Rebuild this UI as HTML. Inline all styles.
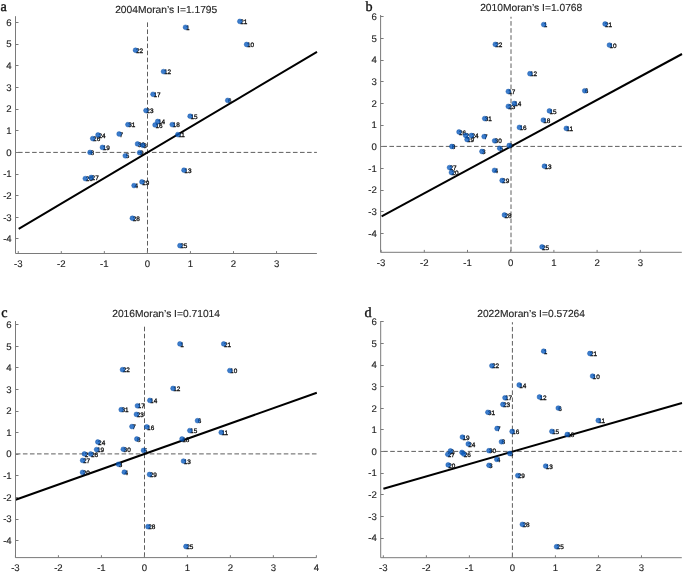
<!DOCTYPE html>
<html><head><meta charset="utf-8"><title>Moran scatter</title><style>
html,body{margin:0;padding:0;background:#fff;}
body{width:685px;height:574px;overflow:hidden;}
svg{display:block;filter:blur(0.35px);}
text{text-rendering:geometricPrecision;}
.tk{font-family:"Liberation Sans", sans-serif;font-size:9.6px;fill:#262626;stroke:#262626;stroke-width:0.15px;}
.lb{font-family:"Liberation Sans", sans-serif;font-size:6.4px;fill:#111;stroke:#111;stroke-width:0.3px;}
.tt{font-family:"Liberation Sans", sans-serif;font-size:10.25px;fill:#262626;stroke:#262626;stroke-width:0.15px;}
.pl{font-family:"Liberation Serif", serif;font-size:14.2px;fill:#111;stroke:#111;stroke-width:0.35px;}
.d{fill:#0558bf;stroke:#03479f;stroke-width:0.5;fill-opacity:0.78;stroke-opacity:0.78;}
</style></head>
<body><svg width="685" height="574" viewBox="0 0 685 574"><rect width="685" height="574" fill="#fff"/><g><line x1="15.5" y1="152.4" x2="316.9" y2="152.4" stroke="#5e5e5e" stroke-width="1" stroke-dasharray="4.6 2.45" stroke-dashoffset="4.55"/><line x1="147.5" y1="22.4" x2="147.5" y2="253.5" stroke="#5e5e5e" stroke-width="1" stroke-dasharray="4.6 2.45" stroke-dashoffset="0"/><line x1="18.7" y1="228.8" x2="317" y2="51.8" stroke="#000" stroke-width="2"/><path d="M15.5 16.2V253.5H316.9" fill="none" stroke="#7a7a7a" stroke-width="1"/><line x1="15.5" y1="238.5" x2="18.5" y2="238.5" stroke="#7a7a7a" stroke-width="1"/><text x="11.7" y="242.15" text-anchor="end" class="tk">-4</text><line x1="15.5" y1="217.5" x2="18.5" y2="217.5" stroke="#7a7a7a" stroke-width="1"/><text x="11.7" y="220.52" text-anchor="end" class="tk">-3</text><line x1="15.5" y1="195.5" x2="18.5" y2="195.5" stroke="#7a7a7a" stroke-width="1"/><text x="11.7" y="198.89" text-anchor="end" class="tk">-2</text><line x1="15.5" y1="174.5" x2="18.5" y2="174.5" stroke="#7a7a7a" stroke-width="1"/><text x="11.7" y="177.26" text-anchor="end" class="tk">-1</text><line x1="15.5" y1="152.5" x2="18.5" y2="152.5" stroke="#7a7a7a" stroke-width="1"/><text x="11.7" y="155.63" text-anchor="end" class="tk">0</text><line x1="15.5" y1="130.5" x2="18.5" y2="130.5" stroke="#7a7a7a" stroke-width="1"/><text x="11.7" y="134" text-anchor="end" class="tk">1</text><line x1="15.5" y1="109.5" x2="18.5" y2="109.5" stroke="#7a7a7a" stroke-width="1"/><text x="11.7" y="112.37" text-anchor="end" class="tk">2</text><line x1="15.5" y1="87.5" x2="18.5" y2="87.5" stroke="#7a7a7a" stroke-width="1"/><text x="11.7" y="90.74" text-anchor="end" class="tk">3</text><line x1="15.5" y1="65.5" x2="18.5" y2="65.5" stroke="#7a7a7a" stroke-width="1"/><text x="11.7" y="69.11" text-anchor="end" class="tk">4</text><line x1="15.5" y1="44.5" x2="18.5" y2="44.5" stroke="#7a7a7a" stroke-width="1"/><text x="11.7" y="47.48" text-anchor="end" class="tk">5</text><line x1="15.5" y1="22.5" x2="18.5" y2="22.5" stroke="#7a7a7a" stroke-width="1"/><text x="11.7" y="25.85" text-anchor="end" class="tk">6</text><line x1="18.25" y1="253.5" x2="18.25" y2="251.1" stroke="#7a7a7a" stroke-width="1"/><text x="18.25" y="267.2" text-anchor="middle" class="tk">-3</text><line x1="61.3" y1="253.5" x2="61.3" y2="251.1" stroke="#7a7a7a" stroke-width="1"/><text x="61.3" y="267.2" text-anchor="middle" class="tk">-2</text><line x1="104.35" y1="253.5" x2="104.35" y2="251.1" stroke="#7a7a7a" stroke-width="1"/><text x="104.35" y="267.2" text-anchor="middle" class="tk">-1</text><line x1="147.4" y1="253.5" x2="147.4" y2="251.1" stroke="#7a7a7a" stroke-width="1"/><text x="147.4" y="267.2" text-anchor="middle" class="tk">0</text><line x1="190.45" y1="253.5" x2="190.45" y2="251.1" stroke="#7a7a7a" stroke-width="1"/><text x="190.45" y="267.2" text-anchor="middle" class="tk">1</text><line x1="233.5" y1="253.5" x2="233.5" y2="251.1" stroke="#7a7a7a" stroke-width="1"/><text x="233.5" y="267.2" text-anchor="middle" class="tk">2</text><line x1="276.55" y1="253.5" x2="276.55" y2="251.1" stroke="#7a7a7a" stroke-width="1"/><text x="276.55" y="267.2" text-anchor="middle" class="tk">3</text><text x="240.2" y="24" class="lb">21</text><text x="247" y="47.1" class="lb">10</text><text x="185.9" y="29.9" class="lb">1</text><text x="135.9" y="52.85" class="lb">22</text><text x="163.9" y="74.2" class="lb">12</text><text x="153.4" y="96.9" class="lb">17</text><text x="146.33" y="113.21" class="lb">23</text><text x="128.28" y="127.23" class="lb">31</text><text x="158.07" y="124.07" class="lb">14</text><text x="155.44" y="127.58" class="lb">16</text><text x="172.61" y="127.23" class="lb">18</text><text x="190.48" y="118.82" class="lb">15</text><text x="178.21" y="137.21" class="lb">11</text><text x="228.1" y="103" class="lb">6</text><text x="119.5" y="136.6" class="lb">7</text><text x="98.4" y="137.6" class="lb">24</text><text x="93.1" y="141.2" class="lb">26</text><text x="102.8" y="150" class="lb">19</text><text x="90.4" y="155" class="lb">8</text><text x="125.66" y="158.41" class="lb">5</text><text x="137.92" y="146.5" class="lb">30</text><text x="143.18" y="147.9" class="lb">3</text><text x="140.02" y="155.26" class="lb">9</text><text x="85.7" y="181.2" class="lb">20</text><text x="91.6" y="180.1" class="lb">27</text><text x="142.3" y="184.51" class="lb">29</text><text x="134.42" y="188.19" class="lb">4</text><text x="184.35" y="172.78" class="lb">13</text><text x="132.75" y="220.85" class="lb">28</text><text x="180.3" y="248.25" class="lb">25</text><circle cx="239.8" cy="21.38" r="2.4" class="d"/><circle cx="246.6" cy="44.48" r="2.4" class="d"/><circle cx="185.5" cy="27.28" r="2.4" class="d"/><circle cx="135.5" cy="50.23" r="2.4" class="d"/><circle cx="163.5" cy="71.58" r="2.4" class="d"/><circle cx="153" cy="94.28" r="2.4" class="d"/><circle cx="145.93" cy="110.59" r="2.4" class="d"/><circle cx="127.88" cy="124.61" r="2.4" class="d"/><circle cx="157.67" cy="121.45" r="2.4" class="d"/><circle cx="155.04" cy="124.96" r="2.4" class="d"/><circle cx="172.21" cy="124.61" r="2.4" class="d"/><circle cx="190.08" cy="116.2" r="2.4" class="d"/><circle cx="177.81" cy="134.59" r="2.4" class="d"/><circle cx="227.7" cy="100.38" r="2.4" class="d"/><circle cx="119.1" cy="133.98" r="2.4" class="d"/><circle cx="98" cy="134.98" r="2.4" class="d"/><circle cx="92.7" cy="138.58" r="2.4" class="d"/><circle cx="102.4" cy="147.38" r="2.4" class="d"/><circle cx="90" cy="152.38" r="2.4" class="d"/><circle cx="125.26" cy="155.79" r="2.4" class="d"/><circle cx="137.52" cy="143.88" r="2.4" class="d"/><circle cx="142.78" cy="145.28" r="2.4" class="d"/><circle cx="139.62" cy="152.64" r="2.4" class="d"/><circle cx="85.3" cy="178.58" r="2.4" class="d"/><circle cx="91.2" cy="177.48" r="2.4" class="d"/><circle cx="141.9" cy="181.89" r="2.4" class="d"/><circle cx="134.02" cy="185.57" r="2.4" class="d"/><circle cx="183.95" cy="170.16" r="2.4" class="d"/><circle cx="132.35" cy="218.23" r="2.4" class="d"/><circle cx="179.9" cy="245.63" r="2.4" class="d"/><text x="166.2" y="12.7" text-anchor="middle" class="tt">2004Moran&#8217;s I=1.1795</text><text x="0.5" y="11" class="pl">a</text></g><g><line x1="380.6" y1="146.4" x2="681.8" y2="146.4" stroke="#5e5e5e" stroke-width="1" stroke-dasharray="4.6 2.45" stroke-dashoffset="5.3"/><line x1="511" y1="16.8" x2="511" y2="252.3" stroke="#5e5e5e" stroke-width="1" stroke-dasharray="4.6 2.45" stroke-dashoffset="2.75"/><line x1="381.6" y1="216.4" x2="682" y2="54" stroke="#000" stroke-width="2"/><path d="M380.6 15V252.3H681.8" fill="none" stroke="#7a7a7a" stroke-width="1"/><line x1="380.6" y1="233.5" x2="383.6" y2="233.5" stroke="#7a7a7a" stroke-width="1"/><text x="376.8" y="236.8" text-anchor="end" class="tk">-4</text><line x1="380.6" y1="211.5" x2="383.6" y2="211.5" stroke="#7a7a7a" stroke-width="1"/><text x="376.8" y="215.11" text-anchor="end" class="tk">-3</text><line x1="380.6" y1="190.5" x2="383.6" y2="190.5" stroke="#7a7a7a" stroke-width="1"/><text x="376.8" y="193.42" text-anchor="end" class="tk">-2</text><line x1="380.6" y1="168.5" x2="383.6" y2="168.5" stroke="#7a7a7a" stroke-width="1"/><text x="376.8" y="171.73" text-anchor="end" class="tk">-1</text><line x1="380.6" y1="146.5" x2="383.6" y2="146.5" stroke="#7a7a7a" stroke-width="1"/><text x="376.8" y="150.04" text-anchor="end" class="tk">0</text><line x1="380.6" y1="125.5" x2="383.6" y2="125.5" stroke="#7a7a7a" stroke-width="1"/><text x="376.8" y="128.35" text-anchor="end" class="tk">1</text><line x1="380.6" y1="103.5" x2="383.6" y2="103.5" stroke="#7a7a7a" stroke-width="1"/><text x="376.8" y="106.66" text-anchor="end" class="tk">2</text><line x1="380.6" y1="81.5" x2="383.6" y2="81.5" stroke="#7a7a7a" stroke-width="1"/><text x="376.8" y="84.97" text-anchor="end" class="tk">3</text><line x1="380.6" y1="60.5" x2="383.6" y2="60.5" stroke="#7a7a7a" stroke-width="1"/><text x="376.8" y="63.28" text-anchor="end" class="tk">4</text><line x1="380.6" y1="38.5" x2="383.6" y2="38.5" stroke="#7a7a7a" stroke-width="1"/><text x="376.8" y="41.59" text-anchor="end" class="tk">5</text><line x1="380.6" y1="16.5" x2="383.6" y2="16.5" stroke="#7a7a7a" stroke-width="1"/><text x="376.8" y="19.9" text-anchor="end" class="tk">6</text><line x1="381.1" y1="252.3" x2="381.1" y2="249.9" stroke="#7a7a7a" stroke-width="1"/><text x="381.1" y="266" text-anchor="middle" class="tk">-3</text><line x1="424.3" y1="252.3" x2="424.3" y2="249.9" stroke="#7a7a7a" stroke-width="1"/><text x="424.3" y="266" text-anchor="middle" class="tk">-2</text><line x1="467.5" y1="252.3" x2="467.5" y2="249.9" stroke="#7a7a7a" stroke-width="1"/><text x="467.5" y="266" text-anchor="middle" class="tk">-1</text><line x1="510.7" y1="252.3" x2="510.7" y2="249.9" stroke="#7a7a7a" stroke-width="1"/><text x="510.7" y="266" text-anchor="middle" class="tk">0</text><line x1="553.9" y1="252.3" x2="553.9" y2="249.9" stroke="#7a7a7a" stroke-width="1"/><text x="553.9" y="266" text-anchor="middle" class="tk">1</text><line x1="597.1" y1="252.3" x2="597.1" y2="249.9" stroke="#7a7a7a" stroke-width="1"/><text x="597.1" y="266" text-anchor="middle" class="tk">2</text><line x1="640.3" y1="252.3" x2="640.3" y2="249.9" stroke="#7a7a7a" stroke-width="1"/><text x="640.3" y="266" text-anchor="middle" class="tk">3</text><text x="605.05" y="26.6" class="lb">21</text><text x="609.4" y="47.7" class="lb">10</text><text x="543.7" y="27.2" class="lb">1</text><text x="495.3" y="47" class="lb">22</text><text x="529.9" y="76.3" class="lb">12</text><text x="508.3" y="94.1" class="lb">17</text><text x="514.3" y="106.1" class="lb">14</text><text x="508.3" y="109" class="lb">23</text><text x="549.4" y="113.5" class="lb">15</text><text x="543.3" y="122.7" class="lb">18</text><text x="484.7" y="121.2" class="lb">31</text><text x="519.4" y="130" class="lb">16</text><text x="459" y="134.6" class="lb">26</text><text x="465.6" y="138" class="lb">2</text><text x="471.4" y="138.1" class="lb">24</text><text x="467" y="142.1" class="lb">19</text><text x="484.1" y="139.2" class="lb">7</text><text x="494.6" y="143.4" class="lb">30</text><text x="451.8" y="149.1" class="lb">8</text><text x="509.2" y="148.1" class="lb">9</text><text x="499.7" y="150.9" class="lb">5</text><text x="481.9" y="154.1" class="lb">3</text><text x="449.5" y="170.2" class="lb">27</text><text x="451.4" y="175.1" class="lb">20</text><text x="494.5" y="173" class="lb">4</text><text x="502.1" y="183.1" class="lb">29</text><text x="544.4" y="168.8" class="lb">13</text><text x="504.4" y="217.6" class="lb">28</text><text x="542" y="249.5" class="lb">25</text><text x="584.7" y="93.4" class="lb">6</text><text x="566.3" y="131" class="lb">11</text><circle cx="605.05" cy="23.98" r="2.4" class="d"/><circle cx="609.4" cy="45.08" r="2.4" class="d"/><circle cx="543.7" cy="24.58" r="2.4" class="d"/><circle cx="495.3" cy="44.38" r="2.4" class="d"/><circle cx="529.9" cy="73.68" r="2.4" class="d"/><circle cx="508.3" cy="91.48" r="2.4" class="d"/><circle cx="514.3" cy="103.48" r="2.4" class="d"/><circle cx="508.3" cy="106.38" r="2.4" class="d"/><circle cx="549.4" cy="110.88" r="2.4" class="d"/><circle cx="543.3" cy="120.08" r="2.4" class="d"/><circle cx="484.7" cy="118.58" r="2.4" class="d"/><circle cx="519.4" cy="127.38" r="2.4" class="d"/><circle cx="459" cy="131.98" r="2.4" class="d"/><circle cx="465.6" cy="135.38" r="2.4" class="d"/><circle cx="471.4" cy="135.48" r="2.4" class="d"/><circle cx="467" cy="139.48" r="2.4" class="d"/><circle cx="484.1" cy="136.58" r="2.4" class="d"/><circle cx="494.6" cy="140.78" r="2.4" class="d"/><circle cx="451.8" cy="146.48" r="2.4" class="d"/><circle cx="509.2" cy="145.48" r="2.4" class="d"/><circle cx="499.7" cy="148.28" r="2.4" class="d"/><circle cx="481.9" cy="151.48" r="2.4" class="d"/><circle cx="449.5" cy="167.58" r="2.4" class="d"/><circle cx="451.4" cy="172.48" r="2.4" class="d"/><circle cx="494.5" cy="170.38" r="2.4" class="d"/><circle cx="502.1" cy="180.48" r="2.4" class="d"/><circle cx="544.4" cy="166.18" r="2.4" class="d"/><circle cx="504.4" cy="214.98" r="2.4" class="d"/><circle cx="542" cy="246.88" r="2.4" class="d"/><circle cx="584.7" cy="90.78" r="2.4" class="d"/><circle cx="566.3" cy="128.38" r="2.4" class="d"/><text x="531.2" y="11.4" text-anchor="middle" class="tt">2010Moran&#8217;s I=1.0768</text><text x="365.6" y="10.8" class="pl">b</text></g><g><line x1="15.5" y1="453.9" x2="316.5" y2="453.9" stroke="#5e5e5e" stroke-width="1" stroke-dasharray="4.6 2.45" stroke-dashoffset="6.7"/><line x1="144.5" y1="326.6" x2="144.5" y2="557.6" stroke="#5e5e5e" stroke-width="1" stroke-dasharray="4.6 2.45" stroke-dashoffset="6.95"/><line x1="15.6" y1="499.8" x2="316.8" y2="392.7" stroke="#000" stroke-width="2"/><path d="M15.5 321V557.6H316.5" fill="none" stroke="#7a7a7a" stroke-width="1"/><line x1="15.5" y1="540.5" x2="18.5" y2="540.5" stroke="#7a7a7a" stroke-width="1"/><text x="11.7" y="543.8" text-anchor="end" class="tk">-4</text><line x1="15.5" y1="519.5" x2="18.5" y2="519.5" stroke="#7a7a7a" stroke-width="1"/><text x="11.7" y="522.22" text-anchor="end" class="tk">-3</text><line x1="15.5" y1="497.5" x2="18.5" y2="497.5" stroke="#7a7a7a" stroke-width="1"/><text x="11.7" y="500.64" text-anchor="end" class="tk">-2</text><line x1="15.5" y1="475.5" x2="18.5" y2="475.5" stroke="#7a7a7a" stroke-width="1"/><text x="11.7" y="479.06" text-anchor="end" class="tk">-1</text><line x1="15.5" y1="454.5" x2="18.5" y2="454.5" stroke="#7a7a7a" stroke-width="1"/><text x="11.7" y="457.48" text-anchor="end" class="tk">0</text><line x1="15.5" y1="432.5" x2="18.5" y2="432.5" stroke="#7a7a7a" stroke-width="1"/><text x="11.7" y="435.9" text-anchor="end" class="tk">1</text><line x1="15.5" y1="411.5" x2="18.5" y2="411.5" stroke="#7a7a7a" stroke-width="1"/><text x="11.7" y="414.32" text-anchor="end" class="tk">2</text><line x1="15.5" y1="389.5" x2="18.5" y2="389.5" stroke="#7a7a7a" stroke-width="1"/><text x="11.7" y="392.74" text-anchor="end" class="tk">3</text><line x1="15.5" y1="367.5" x2="18.5" y2="367.5" stroke="#7a7a7a" stroke-width="1"/><text x="11.7" y="371.16" text-anchor="end" class="tk">4</text><line x1="15.5" y1="346.5" x2="18.5" y2="346.5" stroke="#7a7a7a" stroke-width="1"/><text x="11.7" y="349.58" text-anchor="end" class="tk">5</text><line x1="15.5" y1="324.5" x2="18.5" y2="324.5" stroke="#7a7a7a" stroke-width="1"/><text x="11.7" y="328" text-anchor="end" class="tk">6</text><line x1="15.43" y1="557.6" x2="15.43" y2="555.2" stroke="#7a7a7a" stroke-width="1"/><text x="15.43" y="571.3" text-anchor="middle" class="tk">-3</text><line x1="58.42" y1="557.6" x2="58.42" y2="555.2" stroke="#7a7a7a" stroke-width="1"/><text x="58.42" y="571.3" text-anchor="middle" class="tk">-2</text><line x1="101.41" y1="557.6" x2="101.41" y2="555.2" stroke="#7a7a7a" stroke-width="1"/><text x="101.41" y="571.3" text-anchor="middle" class="tk">-1</text><line x1="144.4" y1="557.6" x2="144.4" y2="555.2" stroke="#7a7a7a" stroke-width="1"/><text x="144.4" y="571.3" text-anchor="middle" class="tk">0</text><line x1="187.39" y1="557.6" x2="187.39" y2="555.2" stroke="#7a7a7a" stroke-width="1"/><text x="187.39" y="571.3" text-anchor="middle" class="tk">1</text><line x1="230.38" y1="557.6" x2="230.38" y2="555.2" stroke="#7a7a7a" stroke-width="1"/><text x="230.38" y="571.3" text-anchor="middle" class="tk">2</text><line x1="273.37" y1="557.6" x2="273.37" y2="555.2" stroke="#7a7a7a" stroke-width="1"/><text x="273.37" y="571.3" text-anchor="middle" class="tk">3</text><line x1="316.36" y1="557.6" x2="316.36" y2="555.2" stroke="#7a7a7a" stroke-width="1"/><text x="316.36" y="571.3" text-anchor="middle" class="tk">4</text><text x="180.2" y="346.5" class="lb">1</text><text x="224" y="346.5" class="lb">21</text><text x="122.8" y="372.3" class="lb">22</text><text x="230.1" y="373.2" class="lb">10</text><text x="173.3" y="391" class="lb">12</text><text x="150.1" y="403" class="lb">14</text><text x="137.7" y="408.4" class="lb">17</text><text x="121.5" y="412.3" class="lb">31</text><text x="136.7" y="417" class="lb">23</text><text x="132.2" y="429.2" class="lb">7</text><text x="147.1" y="429.5" class="lb">16</text><text x="137.1" y="441.6" class="lb">8</text><text x="98.1" y="444.6" class="lb">24</text><text x="96.9" y="452.2" class="lb">19</text><text x="123.6" y="451.9" class="lb">30</text><text x="143.8" y="453" class="lb">5</text><text x="84.7" y="456.5" class="lb">2</text><text x="91" y="456.6" class="lb">26</text><text x="82.9" y="463" class="lb">27</text><text x="118.8" y="466.9" class="lb">3</text><text x="82.8" y="475" class="lb">20</text><text x="124.6" y="474.8" class="lb">4</text><text x="149.8" y="477.1" class="lb">29</text><text x="197.8" y="423.3" class="lb">6</text><text x="190.1" y="433.2" class="lb">15</text><text x="221.5" y="435" class="lb">11</text><text x="182.3" y="441.6" class="lb">18</text><text x="183.8" y="463.7" class="lb">13</text><text x="148.2" y="529.3" class="lb">28</text><text x="186.2" y="549.1" class="lb">25</text><circle cx="179.9" cy="343.88" r="2.4" class="d"/><circle cx="223.7" cy="343.88" r="2.4" class="d"/><circle cx="122.5" cy="369.68" r="2.4" class="d"/><circle cx="229.8" cy="370.58" r="2.4" class="d"/><circle cx="173" cy="388.38" r="2.4" class="d"/><circle cx="149.8" cy="400.38" r="2.4" class="d"/><circle cx="137.4" cy="405.78" r="2.4" class="d"/><circle cx="121.2" cy="409.68" r="2.4" class="d"/><circle cx="136.4" cy="414.38" r="2.4" class="d"/><circle cx="131.9" cy="426.58" r="2.4" class="d"/><circle cx="146.8" cy="426.88" r="2.4" class="d"/><circle cx="136.8" cy="438.98" r="2.4" class="d"/><circle cx="97.8" cy="441.98" r="2.4" class="d"/><circle cx="96.6" cy="449.58" r="2.4" class="d"/><circle cx="123.3" cy="449.28" r="2.4" class="d"/><circle cx="143.5" cy="450.38" r="2.4" class="d"/><circle cx="84.4" cy="453.88" r="2.4" class="d"/><circle cx="90.7" cy="453.98" r="2.4" class="d"/><circle cx="82.6" cy="460.38" r="2.4" class="d"/><circle cx="118.5" cy="464.28" r="2.4" class="d"/><circle cx="82.5" cy="472.38" r="2.4" class="d"/><circle cx="124.3" cy="472.18" r="2.4" class="d"/><circle cx="149.5" cy="474.48" r="2.4" class="d"/><circle cx="197.5" cy="420.68" r="2.4" class="d"/><circle cx="189.8" cy="430.58" r="2.4" class="d"/><circle cx="221.2" cy="432.38" r="2.4" class="d"/><circle cx="182" cy="438.98" r="2.4" class="d"/><circle cx="183.5" cy="461.08" r="2.4" class="d"/><circle cx="147.9" cy="526.68" r="2.4" class="d"/><circle cx="185.9" cy="546.48" r="2.4" class="d"/><text x="166.1" y="316.7" text-anchor="middle" class="tt">2016Moran&#8217;s I=0.71014</text><text x="1.2" y="316.8" class="pl">c</text></g><g><line x1="380.7" y1="451.4" x2="681.8" y2="451.4" stroke="#5e5e5e" stroke-width="1" stroke-dasharray="4.6 2.45" stroke-dashoffset="4.6"/><line x1="512.4" y1="322.2" x2="512.4" y2="557.7" stroke="#5e5e5e" stroke-width="1" stroke-dasharray="4.6 2.45" stroke-dashoffset="2.35"/><line x1="383.4" y1="488.7" x2="682" y2="403" stroke="#000" stroke-width="2"/><path d="M380.7 321V557.7H681.8" fill="none" stroke="#7a7a7a" stroke-width="1"/><line x1="380.7" y1="538.5" x2="383.7" y2="538.5" stroke="#7a7a7a" stroke-width="1"/><text x="376.9" y="541.3" text-anchor="end" class="tk">-4</text><line x1="380.7" y1="516.5" x2="383.7" y2="516.5" stroke="#7a7a7a" stroke-width="1"/><text x="376.9" y="519.67" text-anchor="end" class="tk">-3</text><line x1="380.7" y1="494.5" x2="383.7" y2="494.5" stroke="#7a7a7a" stroke-width="1"/><text x="376.9" y="498.04" text-anchor="end" class="tk">-2</text><line x1="380.7" y1="473.5" x2="383.7" y2="473.5" stroke="#7a7a7a" stroke-width="1"/><text x="376.9" y="476.41" text-anchor="end" class="tk">-1</text><line x1="380.7" y1="451.5" x2="383.7" y2="451.5" stroke="#7a7a7a" stroke-width="1"/><text x="376.9" y="454.78" text-anchor="end" class="tk">0</text><line x1="380.7" y1="429.5" x2="383.7" y2="429.5" stroke="#7a7a7a" stroke-width="1"/><text x="376.9" y="433.15" text-anchor="end" class="tk">1</text><line x1="380.7" y1="408.5" x2="383.7" y2="408.5" stroke="#7a7a7a" stroke-width="1"/><text x="376.9" y="411.52" text-anchor="end" class="tk">2</text><line x1="380.7" y1="386.5" x2="383.7" y2="386.5" stroke="#7a7a7a" stroke-width="1"/><text x="376.9" y="389.89" text-anchor="end" class="tk">3</text><line x1="380.7" y1="365.5" x2="383.7" y2="365.5" stroke="#7a7a7a" stroke-width="1"/><text x="376.9" y="368.26" text-anchor="end" class="tk">4</text><line x1="380.7" y1="343.5" x2="383.7" y2="343.5" stroke="#7a7a7a" stroke-width="1"/><text x="376.9" y="346.63" text-anchor="end" class="tk">5</text><line x1="380.7" y1="321.5" x2="383.7" y2="321.5" stroke="#7a7a7a" stroke-width="1"/><text x="376.9" y="325" text-anchor="end" class="tk">6</text><line x1="383.34" y1="557.7" x2="383.34" y2="555.3" stroke="#7a7a7a" stroke-width="1"/><text x="383.34" y="571.4" text-anchor="middle" class="tk">-3</text><line x1="426.36" y1="557.7" x2="426.36" y2="555.3" stroke="#7a7a7a" stroke-width="1"/><text x="426.36" y="571.4" text-anchor="middle" class="tk">-2</text><line x1="469.38" y1="557.7" x2="469.38" y2="555.3" stroke="#7a7a7a" stroke-width="1"/><text x="469.38" y="571.4" text-anchor="middle" class="tk">-1</text><line x1="512.4" y1="557.7" x2="512.4" y2="555.3" stroke="#7a7a7a" stroke-width="1"/><text x="512.4" y="571.4" text-anchor="middle" class="tk">0</text><line x1="555.42" y1="557.7" x2="555.42" y2="555.3" stroke="#7a7a7a" stroke-width="1"/><text x="555.42" y="571.4" text-anchor="middle" class="tk">1</text><line x1="598.44" y1="557.7" x2="598.44" y2="555.3" stroke="#7a7a7a" stroke-width="1"/><text x="598.44" y="571.4" text-anchor="middle" class="tk">2</text><line x1="641.46" y1="557.7" x2="641.46" y2="555.3" stroke="#7a7a7a" stroke-width="1"/><text x="641.46" y="571.4" text-anchor="middle" class="tk">3</text><text x="543.7" y="353.8" class="lb">1</text><text x="589.9" y="356.1" class="lb">21</text><text x="491.9" y="368.4" class="lb">22</text><text x="592.6" y="378.7" class="lb">10</text><text x="519.2" y="387.6" class="lb">14</text><text x="539.5" y="399.6" class="lb">12</text><text x="505" y="400.4" class="lb">17</text><text x="502.9" y="407.1" class="lb">23</text><text x="487.9" y="414.9" class="lb">31</text><text x="497.1" y="431.1" class="lb">7</text><text x="512.1" y="434.1" class="lb">16</text><text x="462.4" y="439.7" class="lb">19</text><text x="468.3" y="446.6" class="lb">24</text><text x="501.5" y="444.4" class="lb">8</text><text x="450.5" y="453.5" class="lb">2</text><text x="447.8" y="456.9" class="lb">27</text><text x="463.8" y="456.7" class="lb">26</text><text x="489" y="453.3" class="lb">30</text><text x="509.8" y="456.1" class="lb">5</text><text x="496.8" y="462" class="lb">4</text><text x="448.2" y="467.5" class="lb">20</text><text x="489" y="467.9" class="lb">3</text><text x="517.8" y="478.2" class="lb">29</text><text x="558.3" y="410.7" class="lb">6</text><text x="598.3" y="423.1" class="lb">11</text><text x="551.9" y="434" class="lb">15</text><text x="567.3" y="437.1" class="lb">18</text><text x="545.7" y="468.7" class="lb">13</text><text x="522.4" y="527" class="lb">28</text><text x="556.6" y="549.3" class="lb">25</text><circle cx="543.65" cy="351.18" r="2.4" class="d"/><circle cx="589.85" cy="353.48" r="2.4" class="d"/><circle cx="491.85" cy="365.78" r="2.4" class="d"/><circle cx="592.55" cy="376.08" r="2.4" class="d"/><circle cx="519.15" cy="384.98" r="2.4" class="d"/><circle cx="539.45" cy="396.98" r="2.4" class="d"/><circle cx="504.95" cy="397.78" r="2.4" class="d"/><circle cx="502.85" cy="404.48" r="2.4" class="d"/><circle cx="487.85" cy="412.28" r="2.4" class="d"/><circle cx="497.05" cy="428.48" r="2.4" class="d"/><circle cx="512.05" cy="431.48" r="2.4" class="d"/><circle cx="462.35" cy="437.08" r="2.4" class="d"/><circle cx="468.25" cy="443.98" r="2.4" class="d"/><circle cx="501.45" cy="441.78" r="2.4" class="d"/><circle cx="450.45" cy="450.88" r="2.4" class="d"/><circle cx="447.75" cy="454.28" r="2.4" class="d"/><circle cx="461.95" cy="452.38" r="2.4" class="d"/><circle cx="463.75" cy="454.08" r="2.4" class="d"/><circle cx="488.95" cy="450.68" r="2.4" class="d"/><circle cx="509.75" cy="453.48" r="2.4" class="d"/><circle cx="496.75" cy="459.38" r="2.4" class="d"/><circle cx="448.15" cy="464.88" r="2.4" class="d"/><circle cx="488.95" cy="465.28" r="2.4" class="d"/><circle cx="517.75" cy="475.58" r="2.4" class="d"/><circle cx="558.25" cy="408.08" r="2.4" class="d"/><circle cx="598.25" cy="420.48" r="2.4" class="d"/><circle cx="551.85" cy="431.38" r="2.4" class="d"/><circle cx="567.25" cy="434.48" r="2.4" class="d"/><circle cx="545.65" cy="466.08" r="2.4" class="d"/><circle cx="522.35" cy="524.38" r="2.4" class="d"/><circle cx="556.55" cy="546.68" r="2.4" class="d"/><text x="531.1" y="317.1" text-anchor="middle" class="tt">2022Moran&#8217;s I=0.57264</text><text x="364.6" y="316.8" class="pl">d</text></g></svg></body></html>
